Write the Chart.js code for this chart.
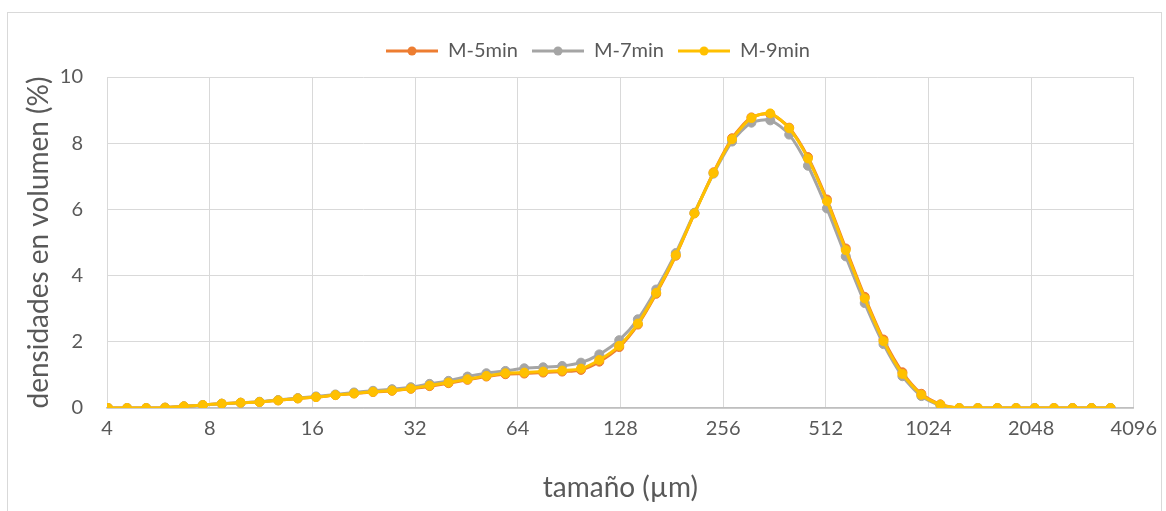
<!DOCTYPE html>
<html>
<head>
<meta charset="utf-8">
<script src="https://cdn.jsdelivr.net/npm/chart.js@4/dist/chart.umd.min.js"></script>
<style>
  html, body { margin: 0; padding: 0; background: #fff; }
  #frame { position: absolute; left: 7px; top: 12px; width: 1153px; height: 520px; border: 1px solid #d9d9d9; }
  #wrap { position: absolute; left: 0; top: 0; width: 1166px; height: 511px; }
</style>
</head>
<body>
<div id="frame"></div>
<div id="wrap"><canvas id="psd"></canvas></div>
<script>
// size classes (µm)
const sizes = [4.03, 4.58, 5.21, 5.92, 6.72, 7.64, 8.68, 9.86, 11.2, 12.7, 14.5, 16.4, 18.7, 21.2, 24.1, 27.4,
  31.1, 35.3, 40.1, 45.6, 51.8, 58.9, 66.9, 76.0, 86.4, 98.1, 111, 127, 144, 163, 186, 211, 240, 272, 310, 352,
  400, 454, 516, 586, 666, 756, 859, 976, 1110, 1260, 1430, 1630, 1850, 2100, 2390, 2710, 3080, 3500];

// densidades en volumen (%)
const m5 = [0, 0, 0, 0.01, 0.05, 0.09, 0.13, 0.16, 0.18, 0.23, 0.29, 0.33, 0.39, 0.44, 0.48, 0.52,
  0.58, 0.66, 0.75, 0.85, 0.95, 1.02, 1.04, 1.07, 1.10, 1.15, 1.40, 1.84, 2.52, 3.45, 4.60, 5.88, 7.12, 8.15, 8.78, 8.88,
  8.47, 7.58, 6.30, 4.82, 3.36, 2.07, 1.08, 0.43, 0.11, 0, 0, 0, 0, 0, 0, 0, 0, 0];
const m7 = [0, 0, 0, 0.01, 0.05, 0.09, 0.13, 0.16, 0.19, 0.24, 0.30, 0.35, 0.41, 0.47, 0.52, 0.57,
  0.63, 0.73, 0.82, 0.95, 1.05, 1.12, 1.20, 1.23, 1.27, 1.37, 1.62, 2.05, 2.68, 3.58, 4.68, 5.90, 7.08, 8.05, 8.62, 8.69,
  8.26, 7.32, 6.03, 4.58, 3.17, 1.93, 0.96, 0.36, 0.08, 0, 0, 0, 0, 0, 0, 0, 0, 0];
const m9 = [0, 0, 0, 0.01, 0.05, 0.09, 0.13, 0.16, 0.18, 0.23, 0.29, 0.33, 0.39, 0.44, 0.49, 0.53,
  0.59, 0.68, 0.77, 0.87, 0.97, 1.05, 1.07, 1.10, 1.13, 1.19, 1.45, 1.88, 2.55, 3.48, 4.62, 5.88, 7.10, 8.12, 8.76, 8.90,
  8.45, 7.54, 6.25, 4.77, 3.31, 2.02, 1.03, 0.40, 0.10, 0, 0, 0, 0, 0, 0, 0, 0, 0];

const seriesNames = ['M-5min', 'M-7min', 'M-9min'];
const seriesColors = ['#ED7D31', '#A5A5A5', '#FFC000'];
const xTicks = [4, 8, 16, 32, 64, 128, 256, 512, 1024, 2048, 4096];

const FONT = 'Lato, "Open Sans", sans-serif';
const TXT = '#595959';

// legend sample: line with a marker in the middle
function legendMark(color) {
  const c = document.createElement('canvas');
  c.width = 52; c.height = 10;
  const g = c.getContext('2d');
  g.strokeStyle = color; g.lineWidth = 3;
  g.beginPath(); g.moveTo(0, 5); g.lineTo(52, 5); g.stroke();
  g.fillStyle = color;
  g.beginPath(); g.arc(26, 5, 4.5, 0, Math.PI * 2); g.fill();
  return c;
}
const marks = seriesColors.map(legendMark);

const toPts = vals => sizes.map((s, i) => ({ x: s, y: vals[i] }));

const datasets = [m5, m7, m9].map((vals, i) => ({
  label: seriesNames[i],
  data: toPts(vals),
  borderColor: seriesColors[i],
  backgroundColor: seriesColors[i],
  borderWidth: 3,
  pointRadius: 4.5,
  pointBorderWidth: 1,
  tension: 0.25,
  order: 2 - i
}));

// a bit more room under the legend, and shift it right like the original
const legendSpace = {
  id: 'legendSpace',
  beforeInit(chart) {
    const fit = chart.legend.fit;
    chart.legend.fit = function () { fit.call(this); this.height += 6; };
  },
  afterLayout(chart) {
    chart.legend.left += 30;
    chart.legend.right += 30;
  }
};

new Chart(document.getElementById('psd'), {
  type: 'line',
  data: { datasets },
  plugins: [legendSpace],
  options: {
    responsive: true,
    maintainAspectRatio: false,
    animation: false,
    layout: { padding: { top: 27, right: 30, left: 0, bottom: 0 } },
    plugins: {
      tooltip: { enabled: false },
      legend: {
        position: 'top',
        labels: {
          usePointStyle: true,
          pointStyleWidth: 52,
          padding: 14,
          color: TXT,
          font: { family: FONT, size: 20 },
          sort: (a, b) => a.datasetIndex - b.datasetIndex,
          generateLabels: chart => Chart.defaults.plugins.legend.labels.generateLabels(chart)
            .map(l => ({ ...l, pointStyle: marks[l.datasetIndex] }))
        }
      }
    },
    scales: {
      x: {
        type: 'logarithmic',
        min: 4, max: 4096,
        afterBuildTicks: s => { s.ticks = xTicks.map(v => ({ value: v })); },
        afterFit: s => { s.height = 103; },
        grid: { color: '#d9d9d9', drawTicks: false },
        border: { color: '#bfbfbf', width: 1.5 },
        ticks: { autoSkip: false, maxRotation: 0, padding: 9, color: TXT, font: { family: FONT, size: 20 },
          callback: v => String(v) },
        title: { display: true, text: 'tamaño (µm)', color: TXT, font: { family: FONT, size: 28 },
          padding: { top: 0, bottom: 6 } }
      },
      y: {
        min: 0, max: 10,
        afterFit: s => { s.width = 107; },
        grid: { color: '#d9d9d9', drawTicks: false },
        border: { display: false },
        ticks: { stepSize: 2, padding: 24, color: TXT, font: { family: FONT, size: 20 } },
        title: { display: true, text: 'densidades en volumen (%)', color: TXT, font: { family: FONT, size: 28 },
          padding: { top: 22, bottom: 0 } }
      }
    }
  }
});
</script>
</body>
</html>
